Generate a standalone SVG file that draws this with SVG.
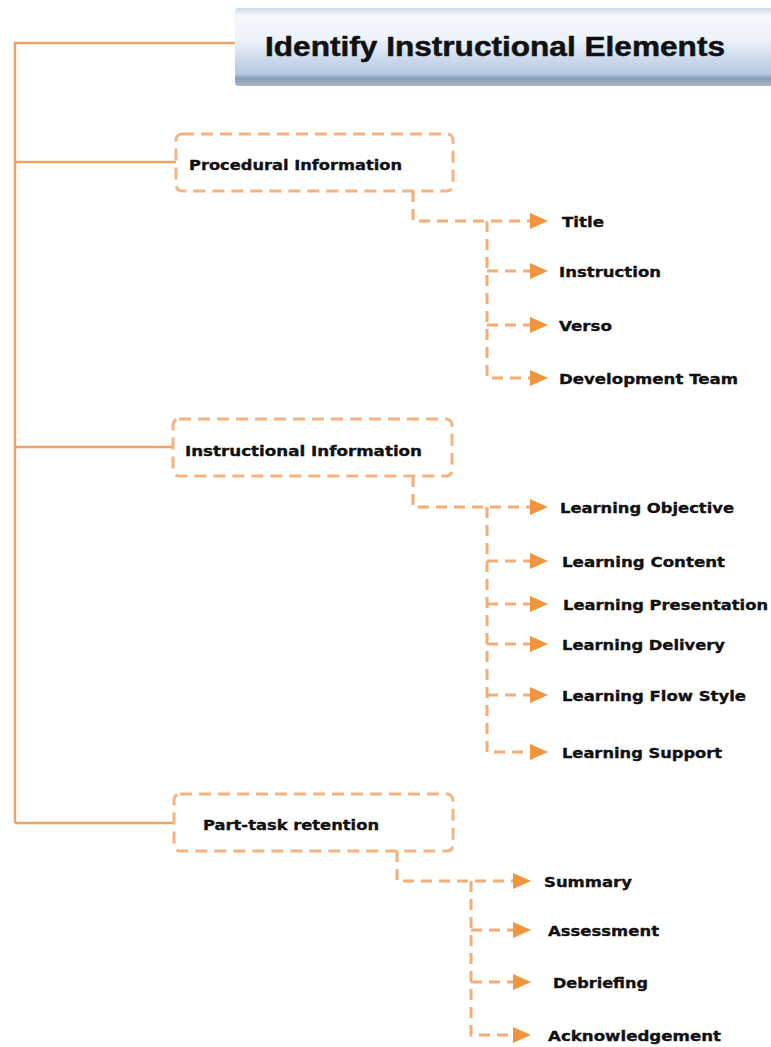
<svg xmlns="http://www.w3.org/2000/svg" width="771" height="1047" viewBox="0 0 771 1047">
<style>
.trunk{fill:none;stroke:#eba56a;stroke-width:2.5}
.dash{fill:none;stroke:#f3ae76;stroke-width:3;stroke-dasharray:11 7}
.box{fill:#fff;stroke:#f5b47f;stroke-width:3;stroke-dasharray:12 7}
.lbl{font-family:"DejaVu Sans",sans-serif;font-weight:bold;font-size:14.5px;fill:#111;stroke:#111;stroke-width:0.35}
.title{font-family:"Liberation Sans",Arial,sans-serif;font-weight:bold;font-size:27px;fill:#111;stroke:#111;stroke-width:0.5}
</style>
<defs>
<linearGradient id="tg" x1="0" y1="0" x2="0" y2="1">
<stop offset="0" stop-color="#cdd9ea"/>
<stop offset="0.1" stop-color="#f6f9fd"/>
<stop offset="0.4" stop-color="#eef3fa"/>
<stop offset="0.85" stop-color="#b3c7e1"/>
<stop offset="0.9" stop-color="#8b9db5"/>
<stop offset="1" stop-color="#aab6c4"/>
</linearGradient>
<marker id="ah" viewBox="0 0 18 16" refX="0" refY="8" markerWidth="18" markerHeight="16" markerUnits="userSpaceOnUse" orient="auto">
<path d="M0,0 L18,8 L0,16 Z" fill="#f0953d"/>
</marker>
</defs>
<g id="title">
<rect x="235" y="8" width="545" height="78" rx="4" fill="url(#tg)"/>
<text class="title" x="265" y="56" textLength="460" lengthAdjust="spacingAndGlyphs">Identify Instructional Elements</text>
</g>
<g id="connectors">
<path class="trunk" d="M235,43 H15 V823 M15,162 H176 M15,447 H173 M15,823 H174"/>
<path class="dash" d="M413,191 V221 H530" marker-end="url(#ah)"/>
<path class="dash" d="M487,221 V378 H530" marker-end="url(#ah)"/>
<path class="dash" d="M487,271 H530" marker-end="url(#ah)"/>
<path class="dash" d="M487,325 H530" marker-end="url(#ah)"/>
<path class="dash" d="M413,476 V507 H530" marker-end="url(#ah)"/>
<path class="dash" d="M487,507 V752 H530" marker-end="url(#ah)"/>
<path class="dash" d="M487,561 H530" marker-end="url(#ah)"/>
<path class="dash" d="M487,604 H530" marker-end="url(#ah)"/>
<path class="dash" d="M487,644 H530" marker-end="url(#ah)"/>
<path class="dash" d="M487,695 H530" marker-end="url(#ah)"/>
<path class="dash" d="M397,851 V881 H513" marker-end="url(#ah)"/>
<path class="dash" d="M471,881 V1035 H513" marker-end="url(#ah)"/>
<path class="dash" d="M471,930 H513" marker-end="url(#ah)"/>
<path class="dash" d="M471,982 H513" marker-end="url(#ah)"/>
</g>
<g id="procedural">
<rect class="box" x="176" y="134" width="277" height="57" rx="6"/>
<text class="lbl" x="189" y="170" textLength="213" lengthAdjust="spacingAndGlyphs">Procedural Information</text>
</g>
<g id="n-title"><text class="lbl" x="562" y="227" textLength="42" lengthAdjust="spacingAndGlyphs">Title</text></g>
<g id="n-instruction"><text class="lbl" x="559" y="277" textLength="102" lengthAdjust="spacingAndGlyphs">Instruction</text></g>
<g id="n-verso"><text class="lbl" x="559" y="331" textLength="53" lengthAdjust="spacingAndGlyphs">Verso</text></g>
<g id="n-devteam"><text class="lbl" x="559" y="384" textLength="179" lengthAdjust="spacingAndGlyphs">Development Team</text></g>
<g id="instructional">
<rect class="box" x="173" y="419" width="279" height="57" rx="6"/>
<text class="lbl" x="185" y="456" textLength="237" lengthAdjust="spacingAndGlyphs">Instructional Information</text>
</g>
<g id="n-objective"><text class="lbl" x="560" y="513" textLength="174" lengthAdjust="spacingAndGlyphs">Learning Objective</text></g>
<g id="n-content"><text class="lbl" x="562" y="567" textLength="163" lengthAdjust="spacingAndGlyphs">Learning Content</text></g>
<g id="n-presentation"><text class="lbl" x="563" y="610" textLength="205" lengthAdjust="spacingAndGlyphs">Learning Presentation</text></g>
<g id="n-delivery"><text class="lbl" x="562" y="650" textLength="163" lengthAdjust="spacingAndGlyphs">Learning Delivery</text></g>
<g id="n-flow"><text class="lbl" x="562" y="701" textLength="184" lengthAdjust="spacingAndGlyphs">Learning Flow Style</text></g>
<g id="n-support"><text class="lbl" x="562" y="758" textLength="160" lengthAdjust="spacingAndGlyphs">Learning Support</text></g>
<g id="parttask">
<rect class="box" x="174" y="794" width="279" height="57" rx="6"/>
<text class="lbl" x="203" y="830" textLength="176" lengthAdjust="spacingAndGlyphs">Part-task retention</text>
</g>
<g id="n-summary"><text class="lbl" x="544" y="887" textLength="88" lengthAdjust="spacingAndGlyphs">Summary</text></g>
<g id="n-assessment"><text class="lbl" x="548" y="936" textLength="111" lengthAdjust="spacingAndGlyphs">Assessment</text></g>
<g id="n-debriefing"><text class="lbl" x="553" y="988" textLength="95" lengthAdjust="spacingAndGlyphs">Debriefing</text></g>
<g id="n-ack"><text class="lbl" x="548" y="1041" textLength="173" lengthAdjust="spacingAndGlyphs">Acknowledgement</text></g>
</svg>
